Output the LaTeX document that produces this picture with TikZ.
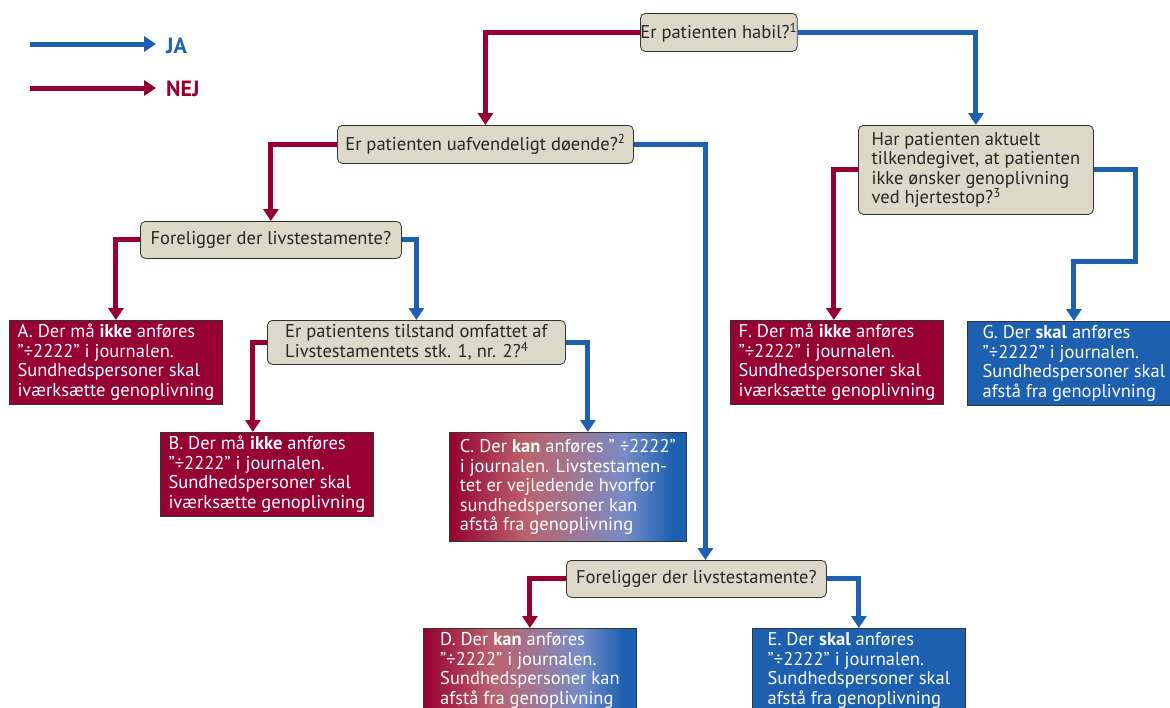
\documentclass[tikz,border=0pt]{standalone}
\usepackage{fontspec}
\setmainfont{PT Sans}
\usetikzlibrary{arrows.meta,calc}
\definecolor{nejred}{RGB}{150,0,50}
\definecolor{jablue}{RGB}{30,96,176}
\definecolor{qfill}{RGB}{220,217,201}
\definecolor{kanrose}{RGB}{186,98,108}
\definecolor{kanmid}{RGB}{160,118,146}
\definecolor{kanlilac}{RGB}{118,140,200}
% rod -> rosa -> lilla -> blaa (kun 25bp..75bp ses)
\pgfdeclarehorizontalshading{kanshade}{100bp}{color(0bp)=(nejred); color(25bp)=(nejred); color(41bp)=(kanrose); color(51bp)=(kanmid); color(62bp)=(kanlilac); color(72bp)=(jablue); color(100bp)=(jablue)}

\begin{document}
\begin{tikzpicture}[x=1pt,y=-1pt,
  every node/.style={font=\fontsize{18.5}{19.5}\selectfont},
  qbox/.style={draw=black!80, line width=0.8pt, fill=qfill, rounded corners=5pt,
    text=black!85, anchor=north west, inner sep=0pt, align=left},
  nejbox/.style={draw=black!80, line width=0.8pt, fill=nejred, text=white,
    anchor=north west, inner sep=0pt, align=left, minimum width=213pt, minimum height=84pt},
  jabox/.style={draw=black!80, line width=0.8pt, fill=jablue, text=white,
    anchor=north west, inner sep=0pt, align=left, minimum width=213pt, minimum height=84pt},
  kanbox/.style={draw=black!80, line width=0.8pt, shading=kanshade, text=white,
    anchor=north west, inner sep=0pt, align=left, minimum width=213pt, minimum height=84pt},
  ja/.style={draw=jablue, line width=5pt, -{Triangle[length=12pt,width=15pt]}},
  nej/.style={draw=nejred, line width=5pt, -{Triangle[length=12pt,width=15pt]}},
  legend/.style={font=\fontsize{22}{22}\selectfont\bfseries, anchor=west, inner sep=0pt}
]
\useasboundingbox (0,0) rectangle (1170,707);
\clip (0,0) rectangle (1170,707);

% forklaring
\coordinate (jafrom) at (30,44);
\coordinate (jato) at (156,44);
\coordinate (nejfrom) at (30,88);
\coordinate (nejto) at (156,88);
\draw[ja] (jafrom) -- (jato);
\draw[nej] (nejfrom) -- (nejto);
\node[legend, text=jablue] (jalabel) at (166,46) {JA};
\node[legend, text=nejred] (nejlabel) at (166,89) {NEJ};

% spoergsmaal
\node[qbox, minimum width=147pt, minimum height=38pt] (q1) at (640,13) {Er patienten habil?\textsuperscript{1}};
\node[qbox, minimum width=296pt, minimum height=38pt] (q2) at (337,125) {Er patienten uafvendeligt døende?\textsuperscript{2}};
\node[qbox, minimum width=235pt, minimum height=89pt] (q3) at (858,125) {Har patienten aktuelt\\tilkendegivet, at patienten\\ikke ønsker genoplivning\\ved hjertestop?\textsuperscript{3}};
\node[qbox, minimum width=261pt, minimum height=37pt] (q4) at (140,221) {Foreligger der livstestamente?};
\node[qbox, minimum width=298pt, minimum height=44pt] (q5) at (267,320) {Er patientens tilstand omfattet af\\Livstestamentets stk. 1, nr. 2?\textsuperscript{4}};
\node[qbox, minimum width=260pt, minimum height=37pt] (q7) at (566,560) {Foreligger der livstestamente?};

% udfald
\node[nejbox] (A) at (9,320) {A. Der må \textbf{ikke} anføres\\"÷2222” i journalen.\\Sundhedspersoner skal\\iværksætte genoplivning};
\node[nejbox] (B) at (160,432) {B. Der må \textbf{ikke} anføres\\"÷2222” i journalen.\\Sundhedspersoner skal\\iværksætte genoplivning};
\node[kanbox, minimum width=237pt, minimum height=109pt] (C) at (449,432) {C. Der \textbf{kan} anføres " ÷2222”\\i journalen. Livstestamen-\\tet er vejledende hvorfor\\sundhedspersoner kan\\afstå fra genoplivning};
\node[kanbox] (D) at (423,628) {D. Der \textbf{kan} anføres\\"÷2222” i journalen.\\Sundhedspersoner kan\\afstå fra genoplivning};
\node[jabox] (E) at (752,628) {E. Der \textbf{skal} anføres\\"÷2222” i journalen.\\Sundhedspersoner skal\\afstå fra genoplivning};
\node[nejbox] (F) at (730,320) {F. Der må \textbf{ikke} anføres\\"÷2222” i journalen.\\Sundhedspersoner skal\\iværksætte genoplivning};
\node[jabox] (G) at (967,321) {G. Der \textbf{skal} anføres\\"÷2222” i journalen.\\Sundhedspersoner skal\\afstå fra genoplivning};

% pile
\draw[nej] (q1.west) -| (q2.north);
\draw[ja] (q1.east) -| (q3.north);
\draw[nej] (q2.west) -| (q4.north);
\draw[ja] (q2.east) -| ([xshift=9pt]q7.north);
\draw[nej] (q3.west) -| ([xshift=-3pt]F.north);
\draw[ja] (q3.east) -- ++(42,0) |- ($(G.north)+(0,-60)$) -- (G.north);
\draw[nej] (q4.west) -| (A.north);
\draw[ja] (q4.east) -| (q5.north);
\draw[nej] (q5.west) -| ([xshift=-14pt]B.north);
\draw[ja] (q5.east) -| ([xshift=20pt]C.north);
\draw[nej] (q7.west) -| (D.north);
\draw[ja] (q7.east) -| (E.north);
\end{tikzpicture}
\end{document}
